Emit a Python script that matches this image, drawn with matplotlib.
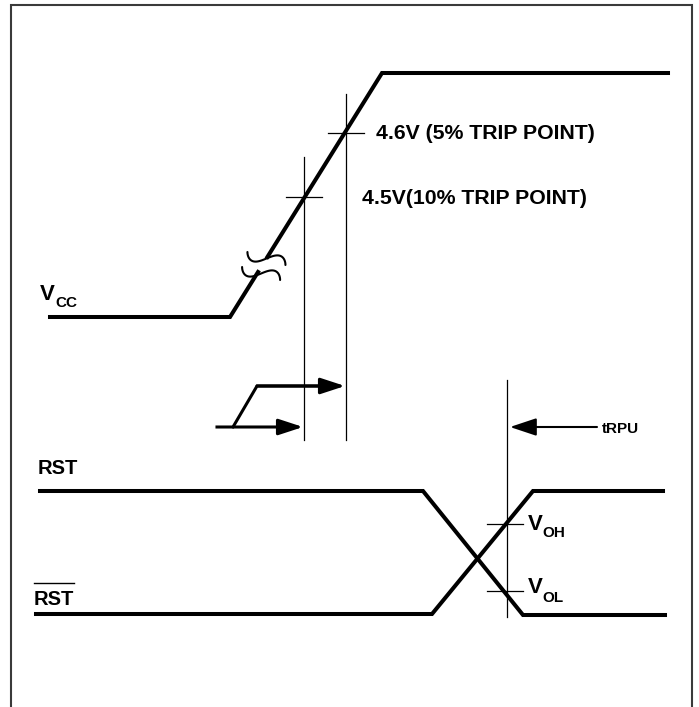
import numpy as np
import matplotlib
matplotlib.use("Agg")
import matplotlib.pyplot as plt

# ---- waveform data (pixel-space diagram coordinates) ----
vcc_x = [50, 230, 382, 668]
vcc_y = [317, 317, 73, 73]
break_y = [257, 272]          # gap in the ramp (break symbol)
break_centers = [258.5, 273.5]

rst_x = [40, 423, 523, 665]
rst_y = [491, 491, 615, 615]
rstb_x = [36, 432, 533, 663]
rstb_y = [614, 614, 491, 491]

trip_x = [304, 346]           # vertical markers for 4.5V / 4.6V
trip_top = [157, 94]
trip_bot = [440, 440]
trip_tick_y = [197, 133]

trpu_x = 507
trpu_top, trpu_bot = 380, 617
voh_y, vol_y = 524, 591

labels_trip = ["4.5V(10% TRIP POINT)", "4.6V (5% TRIP POINT)"]
labels_trip_xy = [(362, 204), (376, 139)]

FONT = ["Liberation Sans", "DejaVu Sans"]

fig = plt.figure(figsize=(6.99, 7.07), dpi=100)
ax = fig.add_axes([0, 0, 1, 1])
ax.set_xlim(0, 699)
ax.set_ylim(707, 0)
ax.axis("off")

# border (open at the bottom)
ax.plot([11, 11, 692, 692], [707, 5, 5, 707], color="#3a3a3a", lw=1.5,
        solid_joinstyle="miter")

THICK = 2.9
def ramp_x(y):
    return vcc_x[1] + (vcc_x[2] - vcc_x[1]) * (vcc_y[1] - y) / (vcc_y[1] - vcc_y[2])

# Vcc waveform, split at the break symbol
ax.plot([vcc_x[0], vcc_x[1], ramp_x(break_y[1])],
        [vcc_y[0], vcc_y[1], break_y[1]], color="black", lw=THICK,
        solid_joinstyle="miter")
ax.plot([ramp_x(break_y[0]), vcc_x[2], vcc_x[3]],
        [break_y[0], vcc_y[2], vcc_y[3]], color="black", lw=THICK,
        solid_joinstyle="miter")

# break symbol: two tilde curves
t = np.linspace(-1, 1, 80)
for i, cy in enumerate(break_centers):
    cx = ramp_x(cy) + (0 if i == 0 else 4)
    ax.plot(cx + 19 * np.sin(np.pi * t / 2), cy + 6.5 * t - 6 * np.sin(np.pi * t),
            color="black", lw=1.5, solid_capstyle="round")

# trip point markers
for x, yt, yb, ty in zip(trip_x, trip_top, trip_bot, trip_tick_y):
    ax.plot([x, x], [yt, yb], color="black", lw=0.9)
    ax.plot([x - 18, x + 18], [ty, ty], color="black", lw=0.9)

for s, (x, y) in zip(labels_trip, labels_trip_xy):
    ax.text(x, y, s, fontsize=15.3, fontweight="bold", family=FONT, va="baseline", ha="left")

# arrows under Vcc
ax.plot([217, 233, 257, 320], [427, 427, 386, 386], color="black", lw=2.2,
        solid_joinstyle="miter")
astyle = "-|>,head_length=0.55,head_width=0.18"
ax.annotate("", xy=(303, 427), xytext=(233, 427),
            arrowprops=dict(arrowstyle=astyle, mutation_scale=27, lw=2.2,
                            color="black", shrinkA=0, shrinkB=0))
ax.annotate("", xy=(345, 386), xytext=(257, 386),
            arrowprops=dict(arrowstyle=astyle, mutation_scale=27, lw=2.2,
                            color="black", shrinkA=0, shrinkB=0))

# Vcc label
ax.text(40, 300, "V", fontsize=16, fontweight="bold", family=FONT, va="baseline")
ax.text(55, 307, "CC", fontsize=11, fontweight="bold", family=FONT, va="baseline")

# RST waveforms
ax.plot(rst_x, rst_y, color="black", lw=THICK, solid_joinstyle="miter")
ax.plot(rstb_x, rstb_y, color="black", lw=THICK, solid_joinstyle="miter")
ax.text(38, 474, "RST", fontsize=14.5, fontweight="bold", family=FONT, va="baseline")
ax.text(34, 605, "RST", fontsize=14.5, fontweight="bold", family=FONT, va="baseline")
ax.plot([34, 74], [583, 583], color="black", lw=1.0)

# tRPU marker
ax.plot([trpu_x, trpu_x], [trpu_top, trpu_bot], color="black", lw=0.9)
ax.annotate("", xy=(510, 427), xytext=(597, 427),
            arrowprops=dict(arrowstyle="-|>,head_length=0.6,head_width=0.2",
                            mutation_scale=27, lw=1.5, color="black",
                            shrinkA=0, shrinkB=0))
ax.text(602, 433, "tRPU", fontsize=11, fontweight="bold", family=FONT, va="baseline")

# VOH / VOL ticks
for y in [voh_y, vol_y]:
    ax.plot([487, 523], [y, y], color="black", lw=0.9)
ax.text(528, 530, "V", fontsize=16, fontweight="bold", family=FONT, va="baseline")
ax.text(542, 537, "OH", fontsize=11, fontweight="bold", family=FONT, va="baseline")
ax.text(528, 593, "V", fontsize=16, fontweight="bold", family=FONT, va="baseline")
ax.text(542, 602, "OL", fontsize=11, fontweight="bold", family=FONT, va="baseline")

fig.savefig("out.png", dpi=100)
